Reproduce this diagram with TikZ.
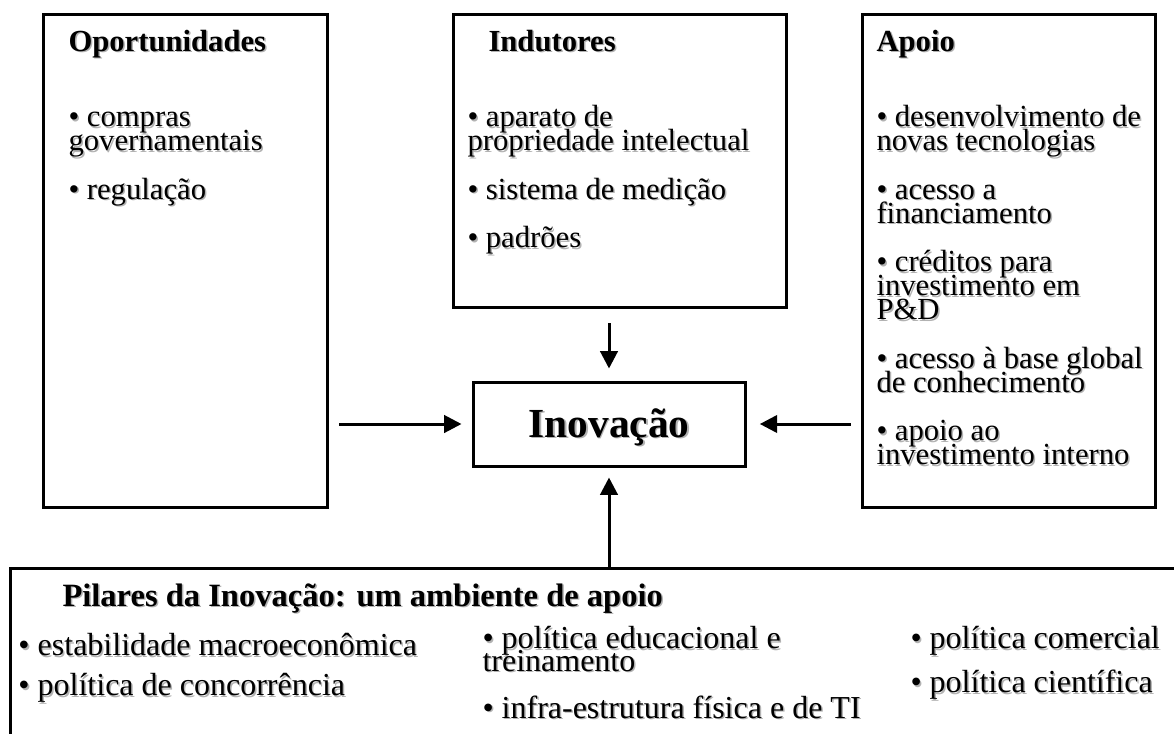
\documentclass[tikz,border=0pt]{standalone}
\usepackage{fontspec}
\setmainfont{Liberation Serif}
\usetikzlibrary{arrows.meta,fit}
\lineskiplimit=-50pt

\tikzset{every picture/.style={line width=0.75pt}}
\tikzset{
  caixa/.style={draw, line width=2.25pt, inner sep=0pt},
  seta/.style={line width=2.25pt, -{Triangle[length=13pt,width=13pt]}},
  texto/.style={anchor=north west, align=left, inner sep=0pt, font=\fontsize{23}{18}\selectfont},
  titulo/.style={anchor=base west, inner sep=0pt, font=\fontsize{23}{18}\selectfont\bfseries},
  pilar/.style={texto, font=\fontsize{24}{17}\selectfont},
}
% texto com sombra cinza
\newcommand{\txtsombra}[5][texto]{%
  \node[#1, text=black!30] at ({#3+1.5},{#4+1.5}) {\rule{0pt}{18pt}#5};
  \node[#1] (#2) at (#3,#4) {\rule{0pt}{18pt}#5};
}

\begin{document}
\begin{tikzpicture}[x=0.75pt,y=0.75pt,yscale=-1,xscale=1]
	\useasboundingbox (0,0) rectangle (1174,733);

	%Shape: Rectangle [oportunidades]
	\node[caixa, fit={(43,14) (327,507)}] (oport) {};
	%Shape: Rectangle [indutores]
	\node[caixa, fit={(453,14) (786,307)}] (indut) {};
	%Shape: Rectangle [apoio]
	\node[caixa, fit={(862,14) (1155,507)}] (apoio) {};
	%Shape: Rectangle [inovacao]
	\node[caixa, fit={(473,382) (745,466)}] (inov) {};
	%Shape: Rectangle [pilares]
	\node[caixa, fit={(10,568) (1200,780)}] (pilares) {};

	%Straight Lines
	\draw[seta, shorten <=8pt, shorten >=7.5pt] (oport.east |- inov.west) -- (inov.west);
	\draw[seta, shorten <=7.5pt, shorten >=10pt] (apoio.west |- inov.east) -- (inov.east);
	\draw[seta, shorten <=11pt, shorten >=9pt] (indut.south -| inov.north) -- (inov.north);
	\draw[seta, shorten >=7.5pt] (pilares.north -| inov.south) -- (inov.south);

	% Text Node
	\txtsombra[titulo]{t-oport}{68}{51}{Oportunidades}
	\txtsombra{l-oport}{68}{102}{• compras\\governamentais\\[18.4pt]• regulação}
	% Text Node
	\txtsombra[titulo]{t-indut}{488}{51}{Indutores}
	\txtsombra{l-indut}{467}{102}{• aparato de\\propriedade intelectual\\[18.4pt]• sistema de medição\\[18.4pt]• padrões}
	% Text Node
	\txtsombra[titulo]{t-apoio}{876}{51}{Apoio}
	\txtsombra{l-apoio}{876}{102}{• desenvolvimento de\\novas tecnologias\\[18.4pt]• acesso a\\financiamento\\[18.4pt]• créditos para\\investimento em\\P\&D\\[18.4pt]• acesso à base global\\de conhecimento\\[18.4pt]• apoio ao\\investimento interno}
	% Text Node
	\txtsombra[titulo, font=\fontsize{31}{31}\selectfont\bfseries, anchor=base]{t-inov}{609}{437}{Inovação}
	% Text Node
	\txtsombra[titulo, font=\fontsize{24.4}{18}\selectfont\bfseries]{t-pilares}{62}{606}{Pilares da Inovação: um ambiente de apoio}
	\txtsombra[pilar]{l-pilar1}{18}{631}{• estabilidade macroeconômica\\[13pt]• política de concorrência}
	\txtsombra[pilar]{l-pilar2}{482}{624}{• política educacional e\\treinamento\\[18.25pt]• infra-estrutura física e de TI}
	\txtsombra[pilar]{l-pilar3}{910}{624}{• política comercial\\[16pt]• política científica}

\end{tikzpicture}
\end{document}
